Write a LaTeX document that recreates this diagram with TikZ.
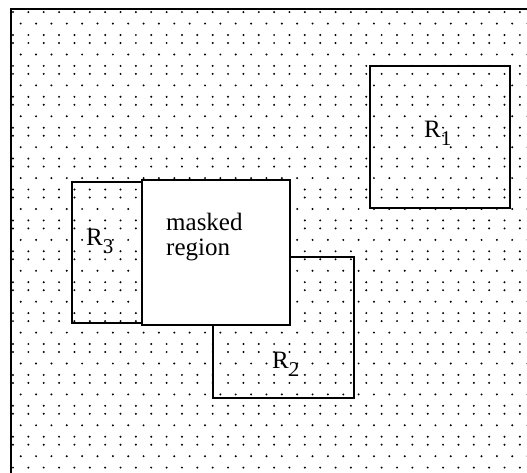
\documentclass[tikz,border=0pt]{standalone}
\usepackage{fontspec}
\setmainfont{Liberation Serif}
\usetikzlibrary{positioning}

\tikzset{
    regionbox/.style={draw, line width=2pt, inner sep=0pt},
    labeltext/.style={anchor=base west, inner sep=0pt, font=\fontsize{25}{25}\selectfont},
}
\newcommand{\rlab}[1]{R\raisebox{-8pt}{\fontsize{21}{21}\selectfont #1}}

\begin{document}
\begin{tikzpicture}[x=1pt, y=-1pt]
    \useasboundingbox (0,0) rectangle (527,473);

    % Dotted background, kept inside the frame
    \begin{scope}
        \clip (11,9) rectangle (527,473);
        \foreach \k in {0,...,15} {
            \foreach \i in {0,...,34} {
                \fill (13+15.36*\i, 4.1+30.9*\k) circle (1.1); % first row of a pair
                \fill (13+15.36*\i, 12.1+30.9*\k) circle (1.1); % second row of a pair
                \fill (20.7+15.36*\i, 23.6+30.9*\k) circle (1.1); % shifted row
            }
        }
    \end{scope}

    % Frame: only the top and left edges are shown
    \coordinate (frametop) at (527,9);
    \coordinate (framecorner) at (11,9);
    \coordinate (framebottom) at (11,473);
    \draw[line width=2pt] (frametop) -- (framecorner) -- (framebottom);

    % Region R1 at the top right
    \node[regionbox, minimum width=140, minimum height=142] (r1) at (440,137) {};
    \node[labeltext] (r1label) at (424,138) {\rlab{1}};

    % Region R2, its corner lies under the masked region
    \node[regionbox, minimum width=141, minimum height=141] (r2) at (283.5,327.5) {};
    \node[labeltext] (r2label) at (272,368) {\rlab{2}};

    % Region R3, left of the masked region
    \node[regionbox, minimum width=70, minimum height=141] (r3) at (107,252.5) {};
    \node[labeltext] (r3label) at (86,245) {\rlab{3}};

    % Masked region: white, heavier line, drawn last
    \node[regionbox, fill=white, line width=2.8pt, minimum width=148, minimum height=145] (mask) at (216,252.5) {};
    \node[labeltext, align=left] (masktext) at (166,255) {masked\\region}; % base is the last line
\end{tikzpicture}
\end{document}
